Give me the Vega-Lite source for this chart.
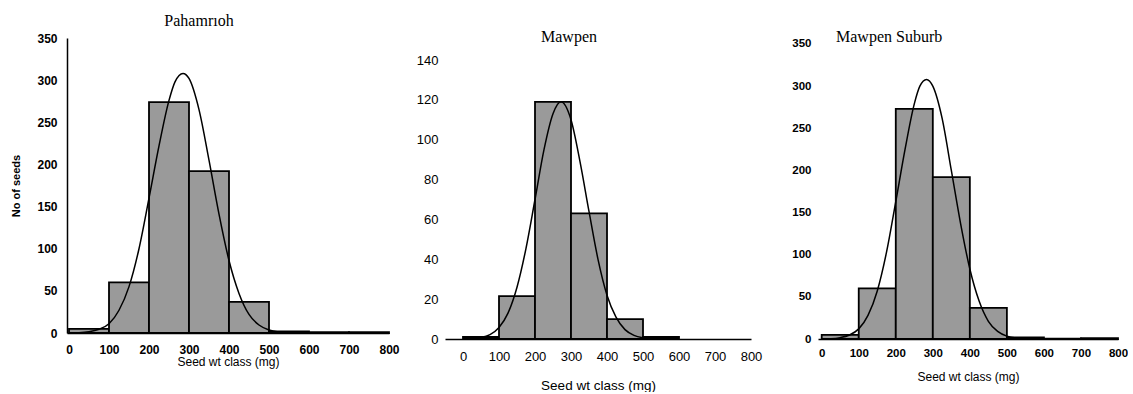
{
  "$schema": "https://vega.github.io/schema/vega-lite/v6.json",
  "padding": {"left": 10, "top": 13, "right": 0, "bottom": 0},
  "autosize": {"type": "pad"},
  "config": {
    "view": {"stroke": null},
    "axis": {"grid": false, "domainColor": "black", "domainWidth": 1.5, "ticks": false, "labelColor": "black", "titleColor": "black", "labelFont": "Liberation Sans", "titleFont": "Liberation Sans", "labelFlush": false, "labelOverlap": false},
    "title": {"font": "Liberation Serif", "fontWeight": "normal", "fontSize": 16, "color": "black"}
  },
  "datasets": {
    "p1bars": [
      {"bin_start": 0, "bin_end": 100, "count": 5},
      {"bin_start": 100, "bin_end": 200, "count": 60},
      {"bin_start": 200, "bin_end": 300, "count": 274},
      {"bin_start": 300, "bin_end": 400, "count": 192},
      {"bin_start": 400, "bin_end": 500, "count": 37},
      {"bin_start": 500, "bin_end": 600, "count": 2},
      {"bin_start": 600, "bin_end": 700, "count": 1},
      {"bin_start": 700, "bin_end": 800, "count": 1}
    ],
    "p1curve": [
      {"x": 0, "y": 0}, {"x": 25, "y": 0.3}, {"x": 50, "y": 1.5}, {"x": 75, "y": 4.5},
      {"x": 100, "y": 11}, {"x": 125, "y": 27}, {"x": 150, "y": 55}, {"x": 175, "y": 100},
      {"x": 200, "y": 160}, {"x": 225, "y": 222}, {"x": 250, "y": 276}, {"x": 265, "y": 298},
      {"x": 285, "y": 308}, {"x": 300, "y": 302}, {"x": 325, "y": 265}, {"x": 350, "y": 205},
      {"x": 375, "y": 141}, {"x": 400, "y": 86}, {"x": 425, "y": 47}, {"x": 450, "y": 22},
      {"x": 475, "y": 9.5}, {"x": 500, "y": 3.6}, {"x": 525, "y": 1.2}, {"x": 550, "y": 0.4},
      {"x": 575, "y": 0.1}, {"x": 600, "y": 0}
    ],
    "p2bars": [
      {"bin_start": 0, "bin_end": 100, "count": 1},
      {"bin_start": 100, "bin_end": 200, "count": 21.5},
      {"bin_start": 200, "bin_end": 300, "count": 119},
      {"bin_start": 300, "bin_end": 400, "count": 63},
      {"bin_start": 400, "bin_end": 500, "count": 10},
      {"bin_start": 500, "bin_end": 600, "count": 1}
    ],
    "p2curve": [
      {"x": 0, "y": 0.2}, {"x": 25, "y": 0.4}, {"x": 50, "y": 0.8}, {"x": 75, "y": 2.2},
      {"x": 100, "y": 5.8}, {"x": 125, "y": 13}, {"x": 150, "y": 26}, {"x": 175, "y": 45.5},
      {"x": 200, "y": 70}, {"x": 225, "y": 95}, {"x": 250, "y": 113}, {"x": 272, "y": 119},
      {"x": 300, "y": 110}, {"x": 325, "y": 89}, {"x": 350, "y": 64}, {"x": 375, "y": 40},
      {"x": 400, "y": 22}, {"x": 425, "y": 11}, {"x": 450, "y": 4.7}, {"x": 475, "y": 1.8},
      {"x": 500, "y": 0.6}, {"x": 525, "y": 0.2}
    ],
    "p3bars": [
      {"bin_start": 0, "bin_end": 100, "count": 5},
      {"bin_start": 100, "bin_end": 200, "count": 60},
      {"bin_start": 200, "bin_end": 300, "count": 273},
      {"bin_start": 300, "bin_end": 400, "count": 192},
      {"bin_start": 400, "bin_end": 500, "count": 37},
      {"bin_start": 500, "bin_end": 600, "count": 2},
      {"bin_start": 600, "bin_end": 700, "count": 0.5},
      {"bin_start": 700, "bin_end": 800, "count": 1}
    ],
    "p3curve": [
      {"x": 0, "y": 0}, {"x": 25, "y": 0.3}, {"x": 50, "y": 1.6}, {"x": 75, "y": 4.8},
      {"x": 100, "y": 12}, {"x": 125, "y": 28}, {"x": 150, "y": 57}, {"x": 175, "y": 103},
      {"x": 200, "y": 163}, {"x": 225, "y": 225}, {"x": 250, "y": 279}, {"x": 265, "y": 300},
      {"x": 283, "y": 308}, {"x": 300, "y": 300}, {"x": 325, "y": 262}, {"x": 350, "y": 200},
      {"x": 375, "y": 137}, {"x": 400, "y": 83}, {"x": 425, "y": 45}, {"x": 450, "y": 21},
      {"x": 475, "y": 9}, {"x": 500, "y": 3.4}, {"x": 525, "y": 1.1}, {"x": 550, "y": 0.4},
      {"x": 575, "y": 0.1}, {"x": 600, "y": 0}
    ]
  },
  "spacing": 29,
  "hconcat": [
    {
      "spacing": 16,
      "hconcat": [
        {
          "width": 322,
          "height": 295,
          "title": {"text": "Pahamrıoh", "anchor": "middle", "frame": "group", "dx": -29, "offset": 3},
          "layer": [
            {
              "data": {"name": "p1bars"},
              "mark": {"type": "rect", "fill": "#9a9a9a", "stroke": "black", "strokeWidth": 1.8},
              "encoding": {
                "x": {"field": "bin_start", "type": "quantitative", "scale": {"domain": [-5, 800], "nice": false, "zero": false},
                      "axis": {"values": [0, 100, 200, 300, 400, 500, 600, 700, 800], "labelOverlap": false, "title": "Seed wt  class (mg)", "labelFontSize": 12, "labelFontWeight": "bold", "labelPadding": 11, "titleFontSize": 12, "titleFontWeight": "normal", "titlePadding": 1}},
                "x2": {"field": "bin_end"},
                "y": {"field": "count", "type": "quantitative", "scale": {"domain": [0, 350], "nice": false},
                      "axis": {"values": [0, 50, 100, 150, 200, 250, 300, 350], "labelOverlap": false, "title": "No  of seeds", "labelFontSize": 12, "labelFontWeight": "bold", "labelPadding": 10, "titleFontSize": 11, "titleFontWeight": "bold", "titlePadding": 15}},
                "y2": {"datum": 0}
              }
            },
            {
              "data": {"name": "p1curve"},
              "mark": {"type": "line", "interpolate": "monotone", "stroke": "black", "strokeWidth": 1.5},
              "encoding": {
                "x": {"field": "x", "type": "quantitative",
                      "axis": {"values": [0, 100, 200, 300, 400, 500, 600, 700, 800], "labelOverlap": false, "title": "Seed wt  class (mg)", "labelFontSize": 12, "labelFontWeight": "bold", "labelPadding": 11, "titleFontSize": 12, "titleFontWeight": "normal", "titlePadding": 1}},
                "y": {"field": "y", "type": "quantitative",
                      "axis": {"values": [0, 50, 100, 150, 200, 250, 300, 350], "labelOverlap": false, "title": "No  of seeds", "labelFontSize": 12, "labelFontWeight": "bold", "labelPadding": 10, "titleFontSize": 11, "titleFontWeight": "bold", "titlePadding": 15}}
              }
            }
          ]
        },
        {
          "width": 306,
          "height": 301,
          "title": {"text": "Mawpen", "anchor": "middle", "frame": "group", "dx": -29, "offset": -7},
          "layer": [
            {
              "data": {"name": "p2bars"},
              "mark": {"type": "rect", "fill": "#9a9a9a", "stroke": "black", "strokeWidth": 1.8},
              "encoding": {
                "x": {"field": "bin_start", "type": "quantitative", "scale": {"domain": [-50, 800], "nice": false, "zero": false},
                      "axis": {"values": [0, 100, 200, 300, 400, 500, 600, 700, 800], "tickCount": 9, "labelOverlap": false, "title": "Seed wt  class (mg)", "labelFontSize": 13, "labelFontWeight": "normal", "labelPadding": 11, "titleFontSize": 13.5, "titleFontWeight": "normal", "titlePadding": 15}},
                "x2": {"field": "bin_end"},
                "y": {"field": "count", "type": "quantitative", "scale": {"domain": [0, 151.04], "nice": false},
                      "axis": {"values": [0, 20, 40, 60, 80, 100, 120, 140], "labelOverlap": false, "title": null, "domain": false, "labelFontSize": 13, "labelFontWeight": "normal", "labelPadding": 7}},
                "y2": {"datum": 0}
              }
            },
            {
              "data": {"name": "p2curve"},
              "mark": {"type": "line", "interpolate": "monotone", "stroke": "black", "strokeWidth": 1.5},
              "encoding": {
                "x": {"field": "x", "type": "quantitative",
                      "axis": {"values": [0, 100, 200, 300, 400, 500, 600, 700, 800], "tickCount": 9, "labelOverlap": false, "title": "Seed wt  class (mg)", "labelFontSize": 13, "labelFontWeight": "normal", "labelPadding": 11, "titleFontSize": 13.5, "titleFontWeight": "normal", "titlePadding": 15}},
                "y": {"field": "y", "type": "quantitative",
                      "axis": {"values": [0, 20, 40, 60, 80, 100, 120, 140], "labelOverlap": false, "title": null, "domain": false, "labelFontSize": 13, "labelFontWeight": "normal", "labelPadding": 7}}
              }
            },
            {
              "mark": {"type": "rule", "stroke": "black", "strokeWidth": 1.5},
              "encoding": {
                "x": {"datum": -50, "type": "quantitative",
                      "axis": {"values": [0, 100, 200, 300, 400, 500, 600, 700, 800], "tickCount": 9, "labelOverlap": false, "title": "Seed wt  class (mg)", "labelFontSize": 13, "labelFontWeight": "normal", "labelPadding": 11, "titleFontSize": 13.5, "titleFontWeight": "normal", "titlePadding": 15}},
                "y": {"datum": 0, "type": "quantitative",
                      "axis": {"values": [0, 20, 40, 60, 80, 100, 120, 140], "labelOverlap": false, "title": null, "domain": false, "labelFontSize": 13, "labelFontWeight": "normal", "labelPadding": 7}},
                "y2": {"datum": 140}
              }
            }
          ]
        }
      ]
    },
    {
      "width": 300,
      "height": 301,
      "title": {"text": "Mawpen Suburb", "anchor": "start", "frame": "group", "dx": 18, "offset": -7},
      "layer": [
        {
          "data": {"name": "p3bars"},
          "mark": {"type": "rect", "fill": "#9a9a9a", "stroke": "black", "strokeWidth": 1.8},
          "encoding": {
            "x": {"field": "bin_start", "type": "quantitative", "scale": {"domain": [-10, 800], "nice": false, "zero": false},
                  "axis": {"values": [0, 100, 200, 300, 400, 500, 600, 700, 800], "tickCount": 9, "labelOverlap": false, "title": "Seed wt  class (mg)", "labelFontSize": 11.5, "labelFontWeight": "bold", "labelPadding": 8, "titleFontSize": 12, "titleFontWeight": "normal", "titlePadding": 13}},
            "x2": {"field": "bin_end"},
            "y": {"field": "count", "type": "quantitative", "scale": {"domain": [0, 357.1], "nice": false},
                  "axis": {"values": [0, 50, 100, 150, 200, 250, 300, 350], "labelOverlap": false, "title": null, "domain": false, "labelFontSize": 11.5, "labelFontWeight": "bold", "labelPadding": 7}},
            "y2": {"datum": 0}
          }
        },
        {
          "data": {"name": "p3curve"},
          "mark": {"type": "line", "interpolate": "monotone", "stroke": "black", "strokeWidth": 1.5},
          "encoding": {
            "x": {"field": "x", "type": "quantitative",
                  "axis": {"values": [0, 100, 200, 300, 400, 500, 600, 700, 800], "tickCount": 9, "labelOverlap": false, "title": "Seed wt  class (mg)", "labelFontSize": 11.5, "labelFontWeight": "bold", "labelPadding": 8, "titleFontSize": 12, "titleFontWeight": "normal", "titlePadding": 13}},
            "y": {"field": "y", "type": "quantitative",
                  "axis": {"values": [0, 50, 100, 150, 200, 250, 300, 350], "labelOverlap": false, "title": null, "domain": false, "labelFontSize": 11.5, "labelFontWeight": "bold", "labelPadding": 7}}
          }
        },
        {
          "mark": {"type": "rule", "stroke": "black", "strokeWidth": 1.5},
          "encoding": {
            "x": {"datum": -10, "type": "quantitative",
                  "axis": {"values": [0, 100, 200, 300, 400, 500, 600, 700, 800], "tickCount": 9, "labelOverlap": false, "title": "Seed wt  class (mg)", "labelFontSize": 11.5, "labelFontWeight": "bold", "labelPadding": 8, "titleFontSize": 12, "titleFontWeight": "normal", "titlePadding": 13}},
            "y": {"datum": 0, "type": "quantitative",
                  "axis": {"values": [0, 50, 100, 150, 200, 250, 300, 350], "labelOverlap": false, "title": null, "domain": false, "labelFontSize": 11.5, "labelFontWeight": "bold", "labelPadding": 7}},
            "y2": {"datum": 350}
          }
        }
      ]
    }
  ]
}
